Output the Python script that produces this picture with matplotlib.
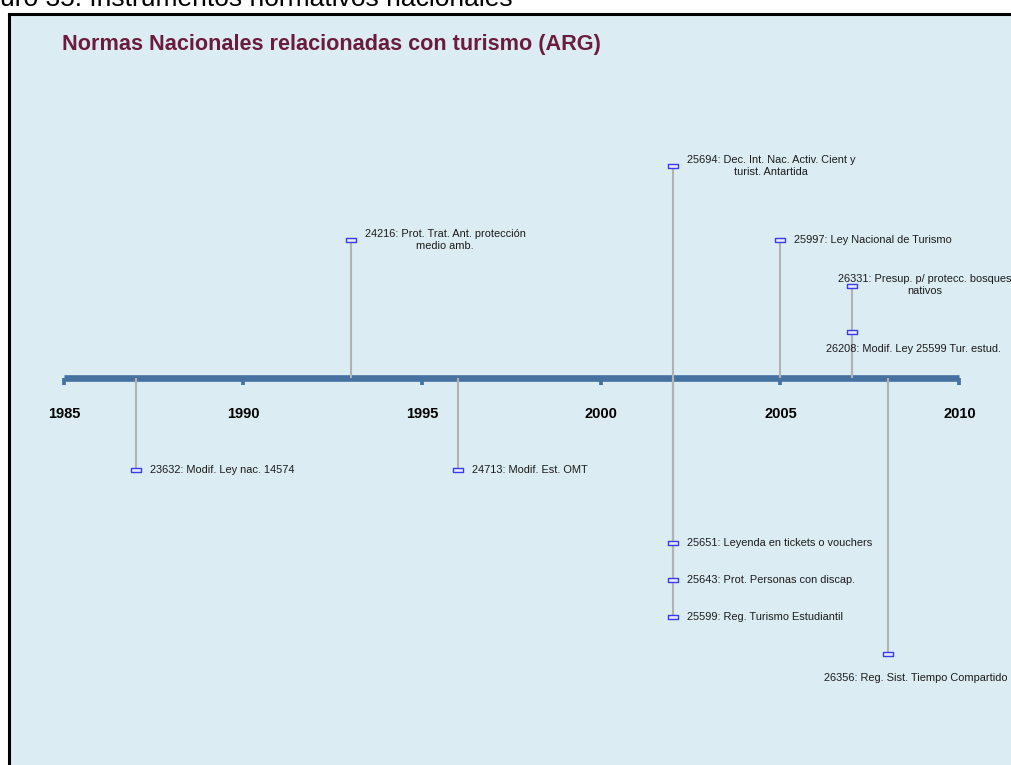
import matplotlib
matplotlib.use("Agg")
import matplotlib.pyplot as plt
from matplotlib.path import Path

plt.rcParams['font.family'] = ['Liberation Sans', 'DejaVu Sans']

# events: law number, description, year, height above/below the timeline
laws = ["23632", "24216", "24713", "25694", "25651", "25643",
        "25599", "25997", "26331", "26208", "26356"]
descs = ["Modif. Ley nac. 14574",
         "Prot. Trat. Ant. protección\nmedio amb.",
         "Modif. Est. OMT",
         "Dec. Int. Nac. Activ. Cient y\nturist. Antartida",
         "Leyenda en tickets o vouchers",
         "Prot. Personas con discap.",
         "Reg. Turismo Estudiantil",
         "Ley Nacional de Turismo",
         "Presup. p/ protecc. bosques\nnativos",
         "Modif. Ley 25599 Tur. estud.",
         "Reg. Sist. Tiempo Compartido"]
years = [1987, 1993, 1996, 2002, 2002, 2002, 2002, 2005, 2007, 2007, 2008]
heights = [-2, 3, -2, 4.6, -3.6, -4.4, -5.2, 3, 2, 1, -6]

tick_years = [1985, 1990, 1995, 2000, 2005, 2010]

title = "Normas Nacionales relacionadas con turismo (ARG)"
caption = "uro 35: Instrumentos normativos nacionales"

# label placement (offset in px from marker, horizontal/vertical alignment)
label_pos = {
    "26331": (-14, 1, 'left', 'center'),
    "26208": (-26, -17, 'left', 'center'),
    "26356": (120, -24, 'right', 'center'),
}

W, H = 1011, 765
fig = plt.figure(figsize=(W / 100, H / 100), dpi=100)
fig.patch.set_facecolor('white')

rect = [8.5 / W, 0, (W - 8.5) / W, (H - 14) / H]
bg = fig.add_axes(rect)
bg.set_facecolor('#dbecf3')
bg.set_xticks([])
bg.set_yticks([])
for s in ['right', 'bottom']:
    bg.spines[s].set_visible(False)
for s in ['left', 'top']:
    bg.spines[s].set_linewidth(2.2)
    bg.spines[s].set_color('black')

ax = fig.add_axes(rect)
ax.patch.set_alpha(0)
ax.set_xlim(1983.44, 2011.44)
ax.set_ylim(-8.42, 7.91)
for s in ['left', 'right', 'top']:
    ax.spines[s].set_visible(False)
ax.spines['bottom'].set_position(('data', 0))
ax.spines['bottom'].set_bounds(1985, 2010)
ax.spines['bottom'].set_color('#4672a1')
ax.spines['bottom'].set_linewidth(4.8)
ax.spines['bottom'].set_capstyle('butt')
ax.set_yticks([])
ax.set_xticks(tick_years)
ax.set_xticklabels([str(y) for y in tick_years], fontweight='bold', fontsize=10.5)
ax.tick_params(axis='x', direction='out', length=5.3, width=2.7,
               color='#4672a1', pad=15.5)

# marker: small flat rectangle
box = Path([(-1, -0.4), (1, -0.4), (1, 0.4), (-1, 0.4), (-1, -0.4)],
           [Path.MOVETO, Path.LINETO, Path.LINETO, Path.LINETO, Path.CLOSEPOLY])

ax.vlines(years, 0, heights, color='#b2b2b2', lw=1.5, zorder=3)
ax.plot(years, heights, ls='none', marker=box, markersize=7.7,
        markerfacecolor='#eaeaff', markeredgecolor='#3a3aee', mew=1, zorder=4)

for law, d, x, h in zip(laws, descs, years, heights):
    dx, dy, ha, va = label_pos.get(law, (14, 0, 'left', 'center'))
    ax.annotate(law + ": " + d, (x, h), xytext=(dx * 0.72, dy * 0.72),
                textcoords='offset points', ha=ha, va=va, ma='center',
                fontsize=7.9, color='#1c1c1c', zorder=5, linespacing=1.25)

fig.text(62 / W, 1 - 50 / H, title, fontsize=15.6, fontweight='bold',
         color='#6b1b3b', va='baseline', ha='left')
fig.text(0.5 / W, 1 - 6 / H, caption, fontsize=19, color='black',
         va='baseline', ha='left')

fig.savefig("out.png", dpi=100)
